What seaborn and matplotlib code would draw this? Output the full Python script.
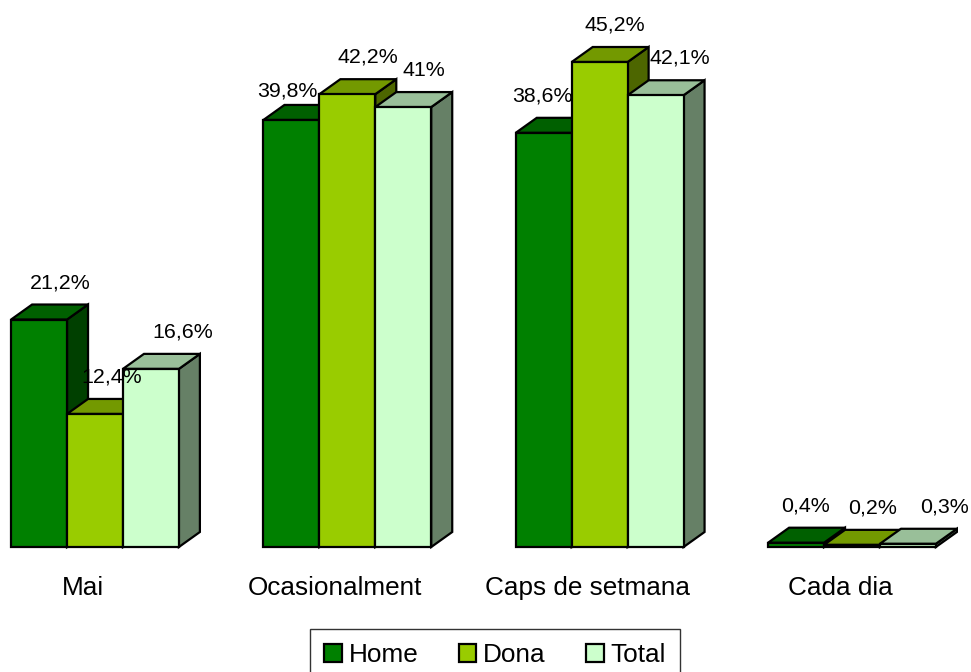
import numpy as np
import pandas as pd
import matplotlib
matplotlib.use("Agg")
import matplotlib.pyplot as plt
import matplotlib.patches as mpatches
from matplotlib.colors import to_rgb
import seaborn as sns

# ---------------- data ----------------
categories = ["Mai", "Ocasionalment", "Caps de setmana", "Cada dia"]
series = ["Home", "Dona", "Total"]
home = [21.2, 39.8, 38.6, 0.4]
dona = [12.4, 42.2, 45.2, 0.2]
total = [16.6, 41.0, 42.1, 0.3]
value_labels = {
    "Home": ["21,2%", "39,8%", "38,6%", "0,4%"],
    "Dona": ["12,4%", "42,2%", "45,2%", "0,2%"],
    "Total": ["16,6%", "41%", "42,1%", "0,3%"],
}
front_colors = ["#008000", "#99CC00", "#CCFFCC"]

df = pd.DataFrame({
    "cat": categories * 3,
    "serie": [s for s in series for _ in categories],
    "val": home + dona + total,
})

# ---------------- layout ----------------
W, H = 971, 672
sns.set_theme(style="white")
plt.rcParams["font.family"] = ["Liberation Sans", "DejaVu Sans"]
plt.rcParams["text.color"] = "black"

fig = plt.figure(figsize=(W / 100, H / 100), dpi=100)
ax = fig.add_axes([0, 0, 1, 1])

px_x = 252.33          # pixels per category
px_y = 10.73           # pixels per percent
cx0 = 95               # pixel x of first category center
base = 547             # pixel y of baseline (from top)
LW = 1.6

sns.barplot(data=df, x="cat", y="val", hue="serie", order=categories,
            hue_order=series, palette=front_colors, width=0.665,
            edgecolor="black", linewidth=LW, saturation=1, ax=ax,
            legend=False, errorbar=None)

ax.set_xlim(-cx0 / px_x, (W - cx0) / px_x)
ax.set_ylim(-(H - base) / px_y, base / px_y)
ax.axis("off")

dx = 21 / px_x
dy = 15 / px_y

def shade(c, f):
    r, g, b = to_rgb(c)
    return (r * f, g * f, b * f)

# collect bars with their series index
bars = []
for si, cont in enumerate(ax.containers):
    for ci, p in enumerate(cont.patches):
        bars.append((p.get_x(), si, ci, p))
bars.sort(key=lambda t: t[0])

for k, (_, si, ci, p) in enumerate(bars):
    z = 2 + k * 0.1
    x0 = p.get_x(); w = p.get_width(); h = p.get_height()
    col = front_colors[si]
    top = mpatches.Polygon([(x0, h), (x0 + w, h), (x0 + w + dx, h + dy), (x0 + dx, h + dy)],
                           closed=True, facecolor=shade(col, 0.75), edgecolor="black",
                           linewidth=LW, joinstyle="miter", zorder=z)
    side = mpatches.Polygon([(x0 + w, 0), (x0 + w + dx, dy), (x0 + w + dx, h + dy), (x0 + w, h)],
                            closed=True, facecolor=shade(col, 0.5), edgecolor="black",
                            linewidth=LW, joinstyle="miter", zorder=z)
    ax.add_patch(side)
    ax.add_patch(top)
    p.set_zorder(z + 0.05)

# value labels (pixel nudges to avoid overlaps)
nudges = {(1, 0): (-25, 8), (2, 0): (-22, 0), (2, 2): (3, 0),
          (0, 2): (11, 0), (2, 1): (-6, 0), (3, 0): (-12, 0), (3, 2): (16, 0),
          (0, 1): (-4, 0)}
for _, si, ci, p in bars:
    x0 = p.get_x(); w = p.get_width(); h = p.get_height()
    nx, ny = nudges.get((ci, si), (0, 0))
    xc = x0 + w / 2 + dx + nx / px_x
    yc = h + dy + (22 - ny) / px_y
    ax.text(xc, yc, value_labels[series[si]][ci], ha="center", va="center",
            fontsize=15.4, color="black", zorder=10)

# category labels
for i, c in enumerate(categories):
    ax.text(i - 12 / px_x, -41 / px_y, c, ha="center", va="center",
            fontsize=18.8, color="black")

# legend
handles = [mpatches.Patch(facecolor=c, edgecolor="black", linewidth=LW, label=s)
           for c, s in zip(front_colors, series)]
leg = fig.legend(handles=handles, loc="upper center", bbox_to_anchor=(495 / W, 1 - 629 / H),
                 ncol=3, frameon=True, fancybox=False, fontsize=18.8,
                 handlelength=0.68, handleheight=0.68, handletextpad=0.25,
                 columnspacing=1.55, borderpad=0.55, borderaxespad=0,
                 labelcolor="black")
leg.get_frame().set_edgecolor("black")
leg.get_frame().set_linewidth(1.0)

fig.savefig("out.png", dpi=100)
